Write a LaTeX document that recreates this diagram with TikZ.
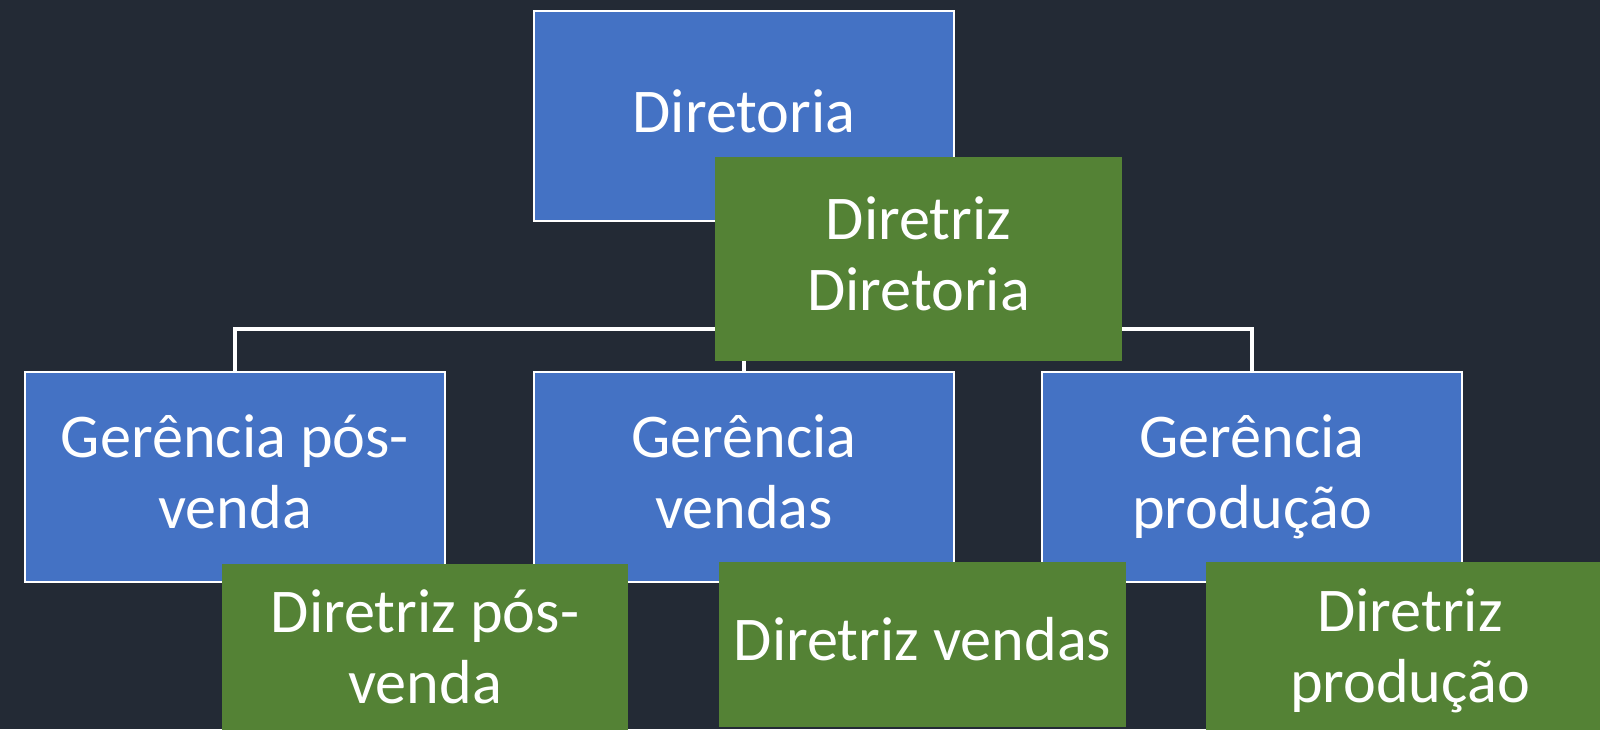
\documentclass[tikz,border=0pt]{standalone}
\usepackage{fontspec}
\setmainfont{Carlito}
\usetikzlibrary{calc}

\definecolor{bgdark}{HTML}{232A35}
\definecolor{boxblue}{HTML}{4472C4}
\definecolor{boxgreen}{HTML}{548235}

\begin{document}
\begin{tikzpicture}[
    font=\fontsize{17.7pt}{20.2pt}\selectfont,
    blue box/.style={draw=white, line width=0.8pt, fill=boxblue, text=white, align=center,
        minimum width=4.2cm, minimum height=2.1cm, inner sep=0pt},
    green box/.style={fill=boxgreen, text=white, align=center, inner sep=0pt},
    one line/.style={text height=4.5mm, text depth=1.3mm},
    two lines/.style={text height=11.6mm, text depth=1.4mm},
    conn/.style={draw=white, line width=1.1pt}
  ]
            \useasboundingbox (0,0) rectangle (16,-7.29);
            \clip (0,0) rectangle (16,-7.29);
            \fill[bgdark] (0,0) rectangle (16,-7.29);

            % hierarchy
            \node[blue box, one line] at (7.44,-1.16) (DIR) {Diretoria};
            \node[blue box, two lines] at (2.35,-4.77) (GER1) {Gerência pós-\\venda};
            \node[blue box, two lines] at (7.44,-4.77) (GER2) {Gerência\\vendas};
            \node[blue box, two lines] at (12.52,-4.77) (GER3) {Gerência\\produção};

            \draw[conn] (DIR.south) -- ++(south:10.7mm) -| (GER1.north);
            \draw[conn] (DIR.south) -- ++(south:10.7mm) -| (GER2.north);
            \draw[conn] (DIR.south) -- ++(south:10.7mm) -| (GER3.north);

            % diretrizes
            \node[green box, two lines, minimum width=4.07cm, minimum height=2.04cm] at (9.185,-2.59) (DRZ0) {Diretriz\\Diretoria};
            \node[green box, two lines, minimum width=4.06cm, minimum height=1.76cm] at (4.25,-6.52) (DRZ1) {Diretriz pós-\\venda};
            \node[green box, one line, minimum width=4.07cm, minimum height=1.65cm] at (9.225,-6.445) (DRZ2) {Diretriz vendas};
            \node[green box, two lines, minimum width=4.08cm, minimum height=1.78cm] at (14.10,-6.51) (DRZ3) {Diretriz\\produção};
        \end{tikzpicture}
\end{document}
